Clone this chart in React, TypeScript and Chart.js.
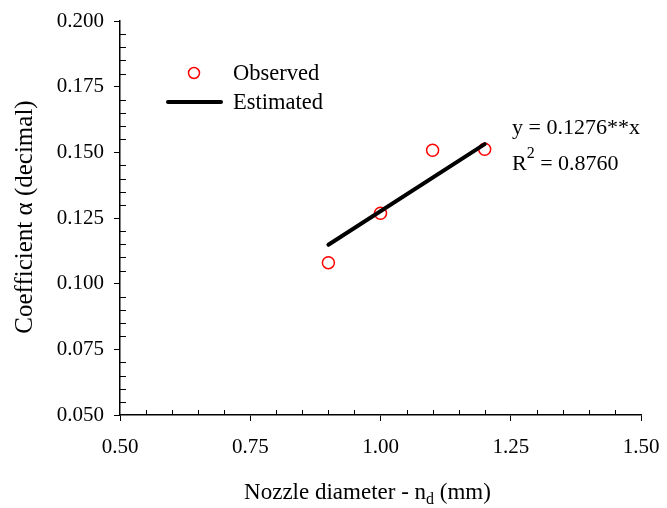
import React, { useEffect, useRef } from "react";
import { Chart, registerables } from "chart.js";

Chart.register(...registerables);

const nozzleDiameters = [0.9, 1.0, 1.1, 1.2];
const observedAlpha = [0.1080, 0.1268, 0.1508, 0.1512];
const estimatedX = [0.9, 1.2];
const estimatedAlpha = [0.1148, 0.1531];
const xTicks = [0.5, 0.75, 1.0, 1.25, 1.5];
const yTicks = [0.05, 0.075, 0.1, 0.125, 0.15, 0.175, 0.2];
const xTitle = "Nozzle diameter - n";
const xTitleSub = "d";
const xTitleEnd = " (mm)";
const yTitle = "Coefficient \u03b1 (decimal)";
const eqLine1 = "y = 0.1276**x";
const eqR = "R";
const eqSup = "2";
const eqRest = " = 0.8760";
const legendObserved = "Observed";
const legendEstimated = "Estimated";

const FONT = "'Liberation Serif', 'Times New Roman', serif";

export default function App() {
  const ref = useRef<HTMLCanvasElement | null>(null);
  useEffect(() => {
    const canvas = ref.current!;
    const decor = {
      id: "decor",
      afterDraw(chart: any) {
        const ctx = chart.ctx as CanvasRenderingContext2D;
        const xs = chart.scales.x;
        const ys = chart.scales.y;
        const ca = chart.chartArea;
        ctx.save();
        ctx.strokeStyle = "#000";
        ctx.lineWidth = 1;
        // minor ticks (inside)
        for (let i = 1; i < 20; i++) {
          if (i % 5 === 0) continue;
          const v = 0.5 + i * 0.05;
          const px = Math.round(xs.getPixelForValue(v)) + 0.5;
          ctx.beginPath();
          ctx.moveTo(px, ca.bottom);
          ctx.lineTo(px, ca.bottom - 5);
          ctx.stroke();
        }
        for (let i = 1; i < 30; i++) {
          if (i % 5 === 0) continue;
          const v = 0.05 + i * 0.005;
          const py = Math.round(ys.getPixelForValue(v)) + 0.5;
          ctx.beginPath();
          ctx.moveTo(ca.left, py);
          ctx.lineTo(ca.left + 6, py);
          ctx.stroke();
        }
        ctx.fillStyle = "#000";
        // x title
        ctx.font = `23px ${FONT}`;
        ctx.textBaseline = "alphabetic";
        const w1 = ctx.measureText(xTitle).width;
        ctx.font = `16px ${FONT}`;
        const w2 = ctx.measureText(xTitleSub).width;
        ctx.font = `23px ${FONT}`;
        const w3 = ctx.measureText(xTitleEnd).width;
        const total = w1 + w2 + w3;
        const sx = (ca.left + ca.right) / 2 - total / 2 - 13;
        const by = 499;
        ctx.textAlign = "left";
        ctx.fillText(xTitle, sx, by);
        ctx.font = `16px ${FONT}`;
        ctx.fillText(xTitleSub, sx + w1, by + 5);
        ctx.font = `23px ${FONT}`;
        ctx.fillText(xTitleEnd, sx + w1 + w2, by);
        // y title
        ctx.save();
        ctx.translate(25, 217);
        ctx.rotate(-Math.PI / 2);
        ctx.textAlign = "center";
        ctx.textBaseline = "middle";
        ctx.font = `25px ${FONT}`;
        ctx.fillText(yTitle, 0, 0);
        ctx.restore();
        // legend
        ctx.strokeStyle = "#ff0000";
        ctx.lineWidth = 1.5;
        ctx.beginPath();
        ctx.arc(194, 73, 5.5, 0, Math.PI * 2);
        ctx.stroke();
        ctx.strokeStyle = "#000";
        ctx.lineWidth = 4;
        ctx.lineCap = "round";
        ctx.beginPath();
        ctx.moveTo(168, 102);
        ctx.lineTo(221, 102);
        ctx.stroke();
        ctx.font = `22.5px ${FONT}`;
        ctx.textAlign = "left";
        ctx.textBaseline = "middle";
        ctx.fillText(legendObserved, 233, 74);
        ctx.fillText(legendEstimated, 233, 103);
        ctx.font = `22px ${FONT}`;
        // equation
        ctx.fillText(eqLine1, 512, 128);
        ctx.fillText(eqR, 512, 164);
        const rw = ctx.measureText(eqR).width;
        ctx.font = `16px ${FONT}`;
        ctx.fillText(eqSup, 512 + rw, 154);
        const sw = ctx.measureText(eqSup).width;
        ctx.font = `22px ${FONT}`;
        ctx.fillText(eqRest, 512 + rw + sw, 164);
        ctx.restore();
      },
    };
    const chart = new Chart(canvas, {
      type: "scatter",
      data: {
        datasets: [
          {
            type: "line",
            label: legendEstimated,
            data: estimatedX.map((x, i) => ({ x, y: estimatedAlpha[i] })),
            borderColor: "#000",
            borderWidth: 4,
            pointRadius: 0,
            borderCapStyle: "round",
            order: 0,
          } as any,
          {
            type: "scatter",
            label: legendObserved,
            data: nozzleDiameters.map((x, i) => ({ x, y: observedAlpha[i] })),
            borderColor: "#ff0000",
            backgroundColor: "rgba(0,0,0,0)",
            borderWidth: 1.5,
            pointRadius: 6,
            order: 1,
          },
        ],
      },
      options: {
        responsive: false,
        animation: false,
        layout: { padding: { top: 21, right: 26, left: 0, bottom: 0 } },
        plugins: { legend: { display: false }, tooltip: { enabled: false } },
        scales: {
          x: {
            type: "linear",
            min: 0.5,
            max: 1.5,
            afterBuildTicks: (s: any) => {
              s.ticks = xTicks.map((v) => ({ value: v }));
            },
            afterFit: (s: any) => {
              s.height = 93;
              s.paddingLeft = 0;
              s.paddingRight = 0;
            },
            ticks: {
              callback: (v: any) => Number(v).toFixed(2),
              font: { family: FONT, size: 21 },
              color: "#000",
              padding: 14,
              maxRotation: 0,
            },
            grid: { drawOnChartArea: false, tickLength: 6, color: "#000", lineWidth: 1 },
            border: { color: "#000", width: 1.5 },
          },
          y: {
            type: "linear",
            min: 0.05,
            max: 0.2,
            afterBuildTicks: (s: any) => {
              s.ticks = yTicks.map((v) => ({ value: v }));
            },
            afterFit: (s: any) => {
              s.width = 120;
              s.paddingTop = 0;
              s.paddingBottom = 0;
            },
            ticks: {
              callback: (v: any) => Number(v).toFixed(3),
              font: { family: FONT, size: 21 },
              color: "#000",
              padding: 10,
            },
            grid: { drawOnChartArea: false, tickLength: 6, color: "#000", lineWidth: 1 },
            border: { color: "#000", width: 1.5 },
          },
        },
      },
      plugins: [decor],
    } as any);
    return () => chart.destroy();
  }, []);
  return (
    <div style={{ position: "absolute", left: 0, top: 0, width: 667, height: 508, background: "#fff" }}>
      <canvas ref={ref} width={667} height={508} style={{ display: "block" }} />
    </div>
  );
}
